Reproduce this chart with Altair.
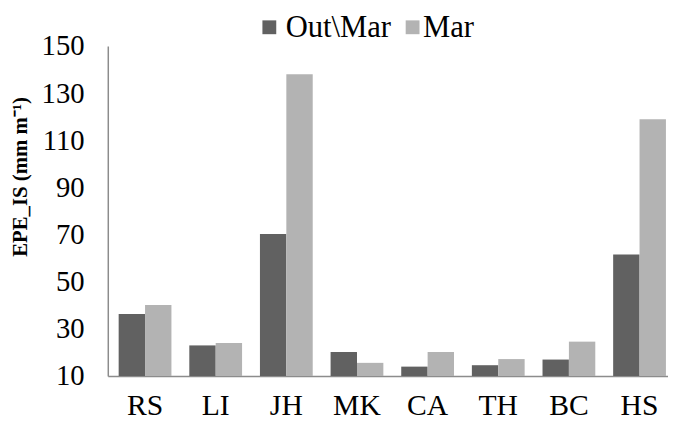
import altair as alt
import pandas as pd

categories = ["RS", "LI", "JH", "MK", "CA", "TH", "BC", "HS"]
series_names = ["Out\\Mar", "Mar"]
out_mar = [36.3, 23.0, 70.3, 20.2, 14.0, 14.6, 17.0, 61.6]
mar = [40.1, 24.0, 138.0, 15.6, 20.2, 17.2, 24.6, 119.0]
y_ticks = [10, 30, 50, 70, 90, 110, 130, 150]
colors = ["#616161", "#b3b3b3"]

rows = []
for c, a, b in zip(categories, out_mar, mar):
    rows.append({"cat": c, "series": series_names[0], "value": a})
    rows.append({"cat": c, "series": series_names[1], "value": b})
df = pd.DataFrame(rows)

FONT = "Liberation Serif"

bars = alt.Chart(df).mark_bar().encode(
    x=alt.X(
        "cat:N",
        sort=categories,
        scale=alt.Scale(paddingInner=0.253, paddingOuter=0.0916, align=0.84),
        axis=alt.Axis(
            title=None,
            labelAngle=0,
            labelFont=FONT,
            labelFontSize=30,
            labelColor="#000000",
            labelPadding=15,
            ticks=False,
            domainColor="#8c8c8c",
            domainWidth=1.5,
        ),
    ),
    xOffset=alt.XOffset("series:N", sort=series_names),
    y=alt.Y(
        "value:Q",
        scale=alt.Scale(domain=[10, 150], zero=False, nice=False),
        axis=alt.Axis(
            values=y_ticks,
            title="EPE_IS (mm m⁻¹)",
            titleFont=FONT,
            titleFontSize=21,
            titleFontWeight="bold",
            titleColor="#000000",
            titleAngle=270,
            titleX=-88,
            titleY=132,
            titleAlign="center",
            titleBaseline="middle",
            labelFont=FONT,
            labelFontSize=29,
            labelColor="#000000",
            labelPadding=24,
            ticks=False,
            grid=False,
            domainColor="#8c8c8c",
            domainWidth=1.5,
        ),
    ),
    y2=alt.datum(10),
    color=alt.Color(
        "series:N",
        sort=series_names,
        scale=alt.Scale(domain=series_names, range=colors),
        legend=None,
    ),
)

# hand-drawn legend (top, horizontal)
legend_square_x = [163.5, 308.5]
legend_text_x = [180, 319]
legend_layers = []
for name, col, sx, tx in zip(series_names, colors, legend_square_x, legend_text_x):
    ldf = pd.DataFrame({"label": [name]})
    sq = alt.Chart(ldf).mark_square(size=196, opacity=1, color=col).encode(
        x=alt.value(sx), y=alt.value(-19)
    )
    tx_mark = alt.Chart(ldf).mark_text(
        align="left", baseline="alphabetic", font=FONT, fontSize=31, color="#000000"
    ).encode(x=alt.value(tx), y=alt.value(-9), text="label:N")
    legend_layers += [sq, tx_mark]

chart = alt.layer(bars, *legend_layers).properties(
    width=567,
    height=334,
    autosize=alt.AutoSizeParams(type="none"),
    padding={"left": 101, "top": 36, "right": 0, "bottom": 45},
).configure(font=FONT).configure_view(stroke=None)

chart.save("out.html", embed_options={"renderer": "svg", "actions": False})
